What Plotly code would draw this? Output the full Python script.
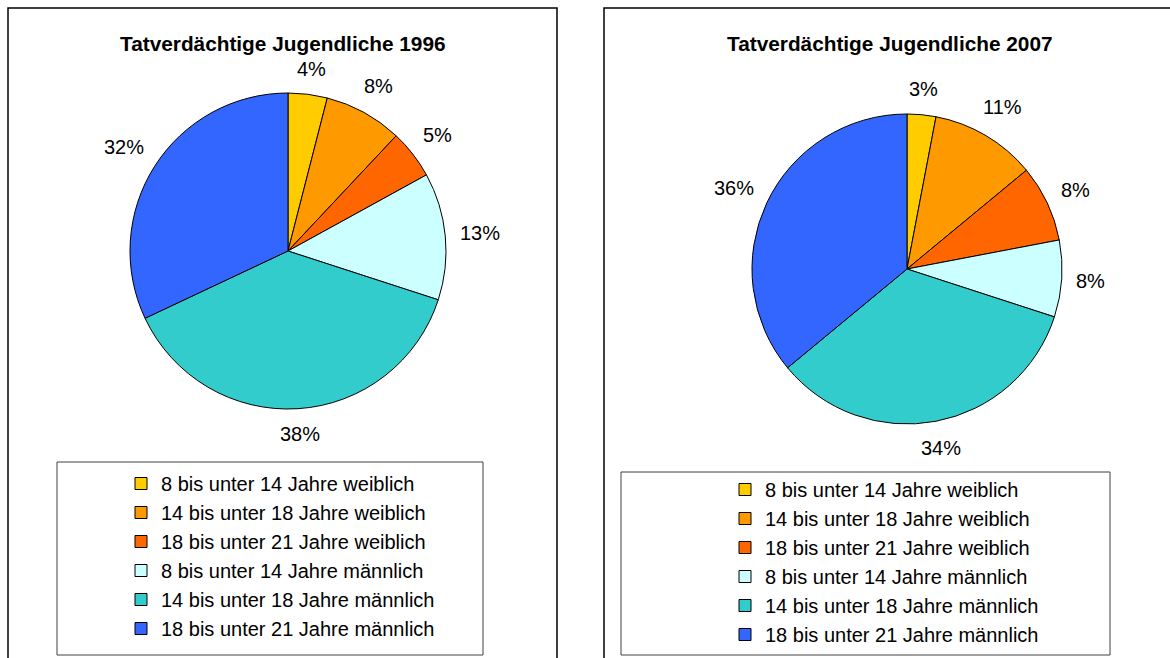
import math
import plotly.graph_objects as go

categories = [
    "8 bis unter 14 Jahre weiblich",
    "14 bis unter 18 Jahre weiblich",
    "18 bis unter 21 Jahre weiblich",
    "8 bis unter 14 Jahre männlich",
    "14 bis unter 18 Jahre männlich",
    "18 bis unter 21 Jahre männlich",
]
values_1996 = [4, 8, 5, 13, 38, 32]
values_2007 = [3, 11, 8, 8, 34, 36]
colors = ["#FFCC00", "#FF9900", "#FF6600", "#CCFFFF", "#33CCCC", "#3366FF"]
titles = ["Tatverdächtige Jugendliche 1996", "Tatverdächtige Jugendliche 2007"]

W, H = 1170, 658
FONT = "Liberation Sans, Arial, sans-serif"
FS = 20


def px(x):
    return x / W


def py(y):
    return 1 - y / H


# pie placement (pixel centre and radius)
pies = [
    dict(values=values_1996, cx=288, cy=251, r=158, legend="legend", suffix=""),
    dict(values=values_2007, cx=907, cy=269, r=155, legend="legend2", suffix=" "),
]

fig = go.Figure()
annotations = []
for p in pies:
    cx, cy, r = p["cx"], p["cy"], p["r"]
    fig.add_trace(go.Pie(
        labels=[c + p["suffix"] for c in categories], values=p["values"],
        sort=False, direction="clockwise", rotation=0,
        marker=dict(colors=colors, line=dict(color="#000000", width=1)),
        textinfo="none",
        domain=dict(x=[px(cx - r), px(cx + r)], y=[py(cy + r), py(cy - r)]),
        legend=p["legend"], hoverinfo="label+percent",
    ))
    total = sum(p["values"])
    cum = 0
    for v in p["values"]:
        mid = (cum + v / 2) / total * 2 * math.pi
        cum += v
        s, c = math.sin(mid), -math.cos(mid)
        text = f"{round(100 * v / total)}%"
        w = 0.556 * FS * (len(text) - 1) + 0.889 * FS
        h = FS * 1.0
        d = r + 14 + abs(s) * w / 2 + abs(c) * h / 2
        annotations.append(dict(
            text=text, x=px(cx + d * s), y=py(cy + d * c), xref="paper", yref="paper",
            xanchor="center", yanchor="middle", showarrow=False,
            font=dict(family=FONT, size=FS, color="#000"),
        ))

annotations.append(dict(text=f"<b>{titles[0]}</b>", x=px(283), y=py(43), xref="paper", yref="paper",
                        xanchor="center", yanchor="middle", showarrow=False,
                        font=dict(family=FONT, size=20.8, color="#000")))
annotations.append(dict(text=f"<b>{titles[1]}</b>", x=px(890), y=py(43), xref="paper", yref="paper",
                        xanchor="center", yanchor="middle", showarrow=False,
                        font=dict(family=FONT, size=20.8, color="#000")))

legend_common = dict(
    font=dict(family=FONT, size=FS, color="#000"),
    bgcolor="rgba(0,0,0,0)", borderwidth=0,
    xanchor="left", yanchor="top", traceorder="normal",
)
fig.update_layout(
    width=W, height=H,
    margin=dict(l=0, r=0, t=0, b=0),
    paper_bgcolor="white",
    showlegend=True,
    legend=dict(x=px(121), y=py(464), **legend_common),
    legend2=dict(x=px(725), y=py(470), **legend_common),
    annotations=annotations,
    shapes=[
        dict(type="rect", xref="paper", yref="paper", x0=px(8), x1=px(557), y0=py(700), y1=py(8),
             line=dict(color="#000", width=1.5)),
        dict(type="rect", xref="paper", yref="paper", x0=px(604), x1=px(1200), y0=py(700), y1=py(8),
             line=dict(color="#000", width=1.5)),
        dict(type="rect", xref="paper", yref="paper", x0=px(57), x1=px(483), y0=py(655), y1=py(462),
             line=dict(color="#404040", width=1)),
        dict(type="rect", xref="paper", yref="paper", x0=px(621), x1=px(1110), y0=py(655), y1=py(472),
             line=dict(color="#404040", width=1)),
    ],
)

fig.write_html("out.html", config=dict(displayModeBar=False),
               post_script="document.body.style.margin='0';")
